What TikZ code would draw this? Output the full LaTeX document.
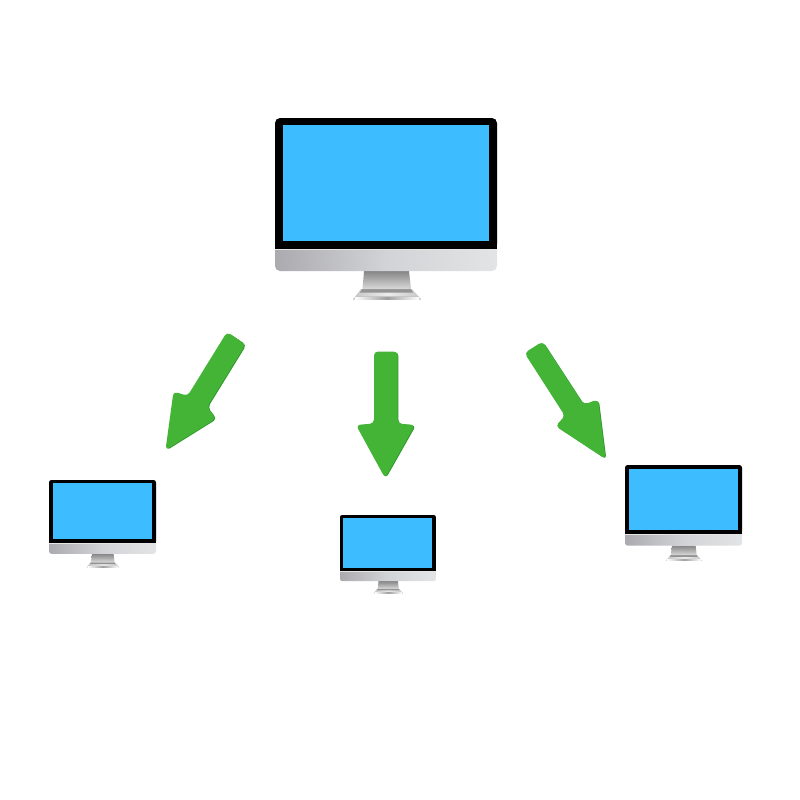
\documentclass[tikz,border=0pt]{standalone}
\definecolor{screenblue}{HTML}{3DBDFF}
\definecolor{arrowgreen}{HTML}{44B437}
\definecolor{arrowdark}{HTML}{2F9A2B}
\definecolor{chinleft}{HTML}{ABABAF}
\definecolor{chinmid}{HTML}{D2D3D6}
\definecolor{chinright}{HTML}{E3E4E5}
\tikzset{
  pics/monitor/.style={code={
    \pgfmathsetlengthmacro\rr{#1*5pt}
    % foot
    \path[left color=gray!45,right color=gray!45,middle color=gray!15]
      (86,171) -- (137,171) -- (146,181.5) -- (78,181.5) -- cycle;
    \path[fill=white!55!gray] (78,181.5) -- (146,181.5) -- (143,178) -- (81,178) -- cycle;
    \path[left color=white,right color=white,middle color=gray!75] (80,179.3) rectangle (144,181);
    \path[fill=gray!85] (87,171) -- (136,171) -- (138,174.5) -- (85,174.5) -- cycle;
    % neck
    \path[top color=gray!95,bottom color=gray!30]
      (89,153) -- (134,153) -- (136,171) -- (87.5,171) -- cycle;
    % chin
    \path[left color=chinleft,right color=chinright,middle color=chinmid,rounded corners=\rr]
      (0,125) -- (222,125) -- (222,153) -- (0,153) -- cycle;
    % body
    \path[fill=black,rounded corners=\rr]
      (0,131) -- (0,0) -- (222,0) -- (222,131) [sharp corners] -- cycle;
    \path[fill=black] (0,100) rectangle (222,130.5);
    \path[fill=white!80!gray] (0,130.5) rectangle (222,131.5);
    % screen
    \path[fill=screenblue] (7.5,7) rectangle (214,123);
  }},
  arrowcorner/.style={rounded corners=4pt},
  arrowback/.style={arrowcorner,fill=arrowdark,xshift=.9pt,yshift=-.5pt},
  arrowfront/.style={arrowcorner,fill=arrowgreen}
}
\newcommand{\centrearrow}{(374,351.5) -- (397.5,351.5) -- (397.5,423.5) -- (415,425) -- (385,478) -- (356,425) -- (374,423.5) -- cycle}
\newcommand{\leftarrowshape}{(227,332) -- (245.5,344.5) -- (207,407) -- (216,418.5) -- (165.5,450) -- (173.5,391.5) -- (187.5,396) -- cycle}
\newcommand{\rightarrowshape}{(524.5,353) -- (542.5,341.5) -- (583.5,404.5) -- (598,399.5) -- (605.5,459) -- (555.5,426) -- (565,416) -- cycle}
\begin{document}
\begin{tikzpicture}[x=1pt,y=-1pt]
\useasboundingbox[fill=white] (0,0) rectangle (800,800);
\pic at (275,118) {monitor=1};
\pic[scale=.482] at (49,480) {monitor=.482};
\pic[scale=.432] at (340,515) {monitor=.432};
\pic[scale=.527] at (625,465) {monitor=.527};
\path[arrowback] \centrearrow;
\path[arrowfront] \centrearrow;
\path[arrowback] \leftarrowshape;
\path[arrowfront] \leftarrowshape;
\path[arrowback] \rightarrowshape;
\path[arrowfront] \rightarrowshape;
\end{tikzpicture}
\end{document}
